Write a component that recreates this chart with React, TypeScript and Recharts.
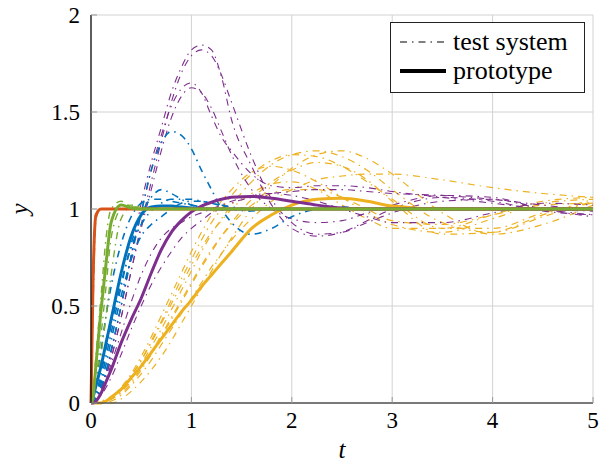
import { useEffect, useState } from "react";
import { LineChart, Line, XAxis, YAxis, CartesianGrid } from "recharts";

const BLUE = "#0072BD";
const ORANGE = "#D95319";
const YELLOW = "#EDB120";
const PURPLE = "#7E2F8E";
const GREEN = "#77AC30";
const FONT = '"Liberation Serif", "Times New Roman", Times, "Nimbus Roman", FreeSerif';
const DASHDOT = "7 5 1.5 5";

const xTicks = [0, 1, 2, 3, 4, 5];
const yTicks = [0, 0.5, 1, 1.5, 2];
const yTickLabels = ["0", "0.5", "1", "1.5", "2"];

// time samples
const T = [0, 0.02, 0.05, 0.1, 0.15, 0.2, 0.3, 0.4, 0.5, 0.6, 0.7, 0.8, 0.9, 1.0, 1.1, 1.2, 1.3, 1.4, 1.6, 1.8, 2.0, 2.25, 2.5, 2.75, 3.0, 3.5, 4.0, 4.5, 5.0];

// prototypes (thick solid)
const protoOrange = [0, 0.62, 0.97, 1.0, 1, 1, 1, 1, 1, 1, 1, 1, 1, 1, 1, 1, 1, 1, 1, 1, 1, 1, 1, 1, 1, 1, 1, 1, 1];
const protoGreen = [0, 0.03, 0.2, 0.48, 0.72, 0.93, 1.02, 1.005, 1, 1, 1, 1, 1, 1, 1, 1, 1, 1, 1, 1, 1, 1, 1, 1, 1, 1, 1, 1, 1];
const protoBlue = [0, 0.03, 0.09, 0.19, 0.31, 0.43, 0.67, 0.86, 0.97, 1.01, 1.015, 1.015, 1.01, 1.005, 1, 1, 1, 1, 1, 1, 1, 1, 1, 1, 1, 1, 1, 1, 1];
const protoPurple = [0, 0, 0.01, 0.05, 0.11, 0.17, 0.31, 0.43, 0.54, 0.67, 0.79, 0.88, 0.94, 0.985, 1.015, 1.035, 1.05, 1.06, 1.065, 1.055, 1.04, 1.02, 1.005, 1, 1, 1, 1, 1, 1];
const protoYellow = [0, 0, 0, 0, 0.01, 0.03, 0.07, 0.13, 0.19, 0.26, 0.33, 0.4, 0.47, 0.53, 0.6, 0.66, 0.72, 0.78, 0.9, 0.97, 1.02, 1.05, 1.055, 1.04, 1.015, 1, 1, 1, 1];

// test systems (thin dash-dot)
const testOrange1 = [0, 0.5, 0.95, 1.0, 1, 1, 1, 1, 1, 1, 1, 1, 1, 1, 1, 1, 1, 1, 1, 1, 1, 1, 1, 1, 1, 1, 1, 1, 1];

const testGreen1 = [0, 0.02, 0.12, 0.35, 0.6, 0.85, 1.0, 1.02, 1.01, 1, 1, 1, 1, 1, 1, 1, 1, 1, 1, 1, 1, 1, 1, 1, 1, 1, 1, 1, 1];
const testGreen2 = [0, 0.01, 0.08, 0.25, 0.45, 0.66, 0.95, 1.01, 1.01, 1, 1, 1, 1, 1, 1, 1, 1, 1, 1, 1, 1, 1, 1, 1, 1, 1, 1, 1, 1];
const testGreen3 = [0, 0.05, 0.25, 0.55, 0.85, 1.0, 1.04, 1.01, 1, 1, 1, 1, 1, 1, 1, 1, 1, 1, 1, 1, 1, 1, 1, 1, 1, 1, 1, 1, 1];

const testBlue1 = [0, 0.01, 0.03, 0.08, 0.16, 0.27, 0.5, 0.75, 0.98, 1.2, 1.34, 1.4, 1.38, 1.31, 1.2, 1.1, 1.0, 0.93, 0.87, 0.9, 0.96, 1.0, 1.01, 1, 1, 1, 1, 1, 1];
const testBlue2 = [0, 0.03, 0.1, 0.27, 0.45, 0.6, 0.82, 0.96, 1.03, 1.05, 1.05, 1.04, 1.03, 1.02, 1.01, 1, 1, 1, 1, 1, 1, 1, 1, 1, 1, 1, 1, 1, 1];
const testBlue3 = [0, 0.02, 0.05, 0.15, 0.28, 0.4, 0.62, 0.8, 0.92, 0.99, 1.03, 1.05, 1.05, 1.05, 1.04, 1.03, 1.02, 1.01, 1, 1, 1, 1, 1, 1, 1, 1, 1, 1, 1];
const testBlue4 = [0, 0.01, 0.03, 0.1, 0.2, 0.32, 0.55, 0.74, 0.86, 0.92, 0.96, 1.0, 1.03, 1.04, 1.04, 1.03, 1.015, 1.0, 0.99, 1, 1, 1, 1, 1, 1, 1, 1, 1, 1];
const testBlue5 = [0, 0.01, 0.04, 0.12, 0.24, 0.36, 0.6, 0.82, 0.97, 1.06, 1.1, 1.08, 1.05, 1.02, 1.01, 1, 1, 1, 1, 1, 1, 1, 1, 1, 1, 1, 1, 1, 1];

const testPurple1 = [0, 0.005, 0.02, 0.08, 0.16, 0.26, 0.5, 0.76, 1.03, 1.24, 1.42, 1.6, 1.73, 1.82, 1.845, 1.82, 1.68, 1.46, 1.22, 1.02, 0.9, 0.86, 0.88, 0.94, 1.0, 1.06, 1.04, 0.99, 0.97];
const testPurple2 = [0, 0.005, 0.02, 0.07, 0.14, 0.23, 0.44, 0.68, 0.92, 1.14, 1.35, 1.55, 1.7, 1.79, 1.82, 1.79, 1.69, 1.55, 1.27, 1.05, 0.93, 0.87, 0.88, 0.93, 0.98, 1.04, 1.05, 1.0, 0.97];
const testPurple3 = [0, 0.005, 0.02, 0.08, 0.16, 0.27, 0.5, 0.76, 0.98, 1.2, 1.38, 1.53, 1.62, 1.65, 1.6, 1.48, 1.37, 1.3, 1.18, 1.12, 1.11, 1.12, 1.12, 1.11, 1.09, 1.06, 1.03, 1.0, 0.99];
const testPurple4 = [0, 0.005, 0.02, 0.07, 0.14, 0.23, 0.44, 0.68, 0.9, 1.1, 1.3, 1.47, 1.58, 1.625, 1.6, 1.52, 1.4, 1.28, 1.1, 1.0, 0.95, 0.93, 0.94, 0.98, 1.02, 1.07, 1.06, 1.0, 0.96];
const testPurple5 = [0, 0, 0.01, 0.04, 0.08, 0.13, 0.25, 0.38, 0.5, 0.61, 0.7, 0.78, 0.85, 0.9, 0.94, 0.98, 1.0, 1.03, 1.06, 1.08, 1.09, 1.1, 1.1, 1.09, 1.08, 1.07, 1.05, 1.02, 0.99];
const testPurple6 = [0, 0.005, 0.02, 0.06, 0.12, 0.2, 0.36, 0.52, 0.66, 0.77, 0.85, 0.9, 0.93, 0.96, 0.98, 1.0, 1.02, 1.04, 1.07, 1.08, 1.07, 1.04, 1.0, 0.96, 0.93, 0.93, 0.98, 1.03, 1.02];

const testYellow1 = [0, 0, 0, 0.005, 0.015, 0.03, 0.08, 0.15, 0.24, 0.34, 0.45, 0.56, 0.67, 0.78, 0.88, 0.97, 1.04, 1.1, 1.19, 1.22, 1.2, 1.14, 1.06, 0.98, 0.92, 0.88, 0.95, 1.03, 1.05];
const testYellow2 = [0, 0, 0, 0, 0.01, 0.02, 0.06, 0.12, 0.2, 0.29, 0.38, 0.48, 0.58, 0.68, 0.78, 0.87, 0.95, 1.02, 1.14, 1.23, 1.28, 1.3, 1.27, 1.2, 1.1, 0.93, 0.88, 0.96, 1.04];
const testYellow3 = [0, 0, 0, 0.005, 0.015, 0.03, 0.07, 0.14, 0.22, 0.32, 0.42, 0.53, 0.64, 0.74, 0.84, 0.93, 1.0, 1.07, 1.18, 1.25, 1.28, 1.27, 1.22, 1.14, 1.05, 0.9, 0.9, 0.98, 1.03];
const testYellow4 = [0, 0, 0, 0, 0.005, 0.01, 0.04, 0.09, 0.15, 0.22, 0.3, 0.38, 0.46, 0.54, 0.62, 0.7, 0.77, 0.84, 0.95, 1.04, 1.1, 1.15, 1.17, 1.18, 1.18, 1.15, 1.11, 1.08, 1.06];
const testYellow5 = [0, 0, 0, 0, 0.01, 0.02, 0.05, 0.1, 0.17, 0.25, 0.34, 0.43, 0.52, 0.61, 0.7, 0.78, 0.86, 0.93, 1.05, 1.14, 1.2, 1.24, 1.22, 1.15, 1.04, 0.87, 0.88, 0.97, 1.05];
const testYellow6 = [0, 0, 0, 0, 0, 0, 0.02, 0.06, 0.11, 0.17, 0.24, 0.32, 0.41, 0.5, 0.59, 0.68, 0.77, 0.85, 1.0, 1.12, 1.21, 1.28, 1.3, 1.26, 1.18, 0.98, 0.87, 0.92, 1.02];
const testYellow7 = [0, 0, 0, 0.005, 0.01, 0.02, 0.06, 0.11, 0.18, 0.26, 0.35, 0.44, 0.53, 0.62, 0.71, 0.79, 0.86, 0.92, 1.02, 1.08, 1.1, 1.1, 1.06, 1.0, 0.94, 0.92, 0.97, 1.02, 1.03];
const testYellow8 = [0, 0, 0, 0.01, 0.02, 0.03, 0.08, 0.14, 0.22, 0.31, 0.41, 0.51, 0.61, 0.71, 0.8, 0.88, 0.94, 1.0, 1.08, 1.13, 1.14, 1.1, 1.02, 0.95, 0.9, 0.9, 0.97, 1.04, 1.06];

type Series = { key: string; values: number[]; color: string; width: number; dashed: boolean };

const tests: Series[] = [
  ...[testYellow1, testYellow2, testYellow3, testYellow4, testYellow5, testYellow6, testYellow7, testYellow8].map((v, i) => ({ key: `ty${i}`, values: v, color: YELLOW, width: 1.2, dashed: true })),
  ...[testPurple1, testPurple2, testPurple3, testPurple4, testPurple5, testPurple6].map((v, i) => ({ key: `tp${i}`, values: v, color: PURPLE, width: 1.1, dashed: true })),
  ...[testBlue1, testBlue2, testBlue3, testBlue4, testBlue5].map((v, i) => ({ key: `tb${i}`, values: v, color: BLUE, width: 1.6, dashed: true })),
  ...[testGreen1, testGreen2, testGreen3].map((v, i) => ({ key: `tg${i}`, values: v, color: GREEN, width: 1.4, dashed: true })),
  { key: "to0", values: testOrange1, color: ORANGE, width: 1.4, dashed: true },
];

const prototypes: Series[] = [
  { key: "pYellow", values: protoYellow, color: YELLOW, width: 3, dashed: false },
  { key: "pPurple", values: protoPurple, color: PURPLE, width: 3, dashed: false },
  { key: "pBlue", values: protoBlue, color: BLUE, width: 3, dashed: false },
  { key: "pOrange", values: protoOrange, color: ORANGE, width: 3, dashed: false },
  { key: "pGreen", values: protoGreen, color: GREEN, width: 3, dashed: false },
];

const allSeries = [...tests, ...prototypes];

const data = T.map((t, i) => {
  const row: Record<string, number> = { t };
  allSeries.forEach((s) => {
    row[s.key] = s.values[i];
  });
  return row;
});

const textStyle = { fontFamily: FONT };
const css = `#chart-root, #chart-root text, #chart-root tspan { font-family: ${FONT} !important; }`;

function LegendBox() {
  return (
    <svg width={608} height={463} style={{ position: "absolute", left: 0, top: 0, pointerEvents: "none" }}>
      <rect x={390.5} y={22.5} width={194} height={70} fill="#fff" stroke="#222" strokeWidth={1} />
      <line x1={400} x2={446} y1={42} y2={42} stroke="#000" strokeWidth={1} strokeDasharray={DASHDOT} />
      <text x={453} y={50} fontFamily={FONT} style={textStyle} fontSize={26} fill="#000">test system</text>
      <line x1={400} x2={446} y1={71} y2={71} stroke="#000" strokeWidth={4} />
      <text x={453} y={79} fontFamily={FONT} style={textStyle} fontSize={26} fill="#000">prototype</text>
    </svg>
  );
}

export default function App() {
  const [ready, setReady] = useState(0);
  useEffect(() => {
    if (document.fonts && document.fonts.ready) {
      document.fonts.ready.then(() => setReady(1));
    }
  }, []);
  return (
    <div id="chart-root" key={ready} style={{ position: "absolute", left: 0, top: 0, width: 608, height: 463, background: "#fff", fontFamily: FONT }}>
      <style>{css}</style>
      <LineChart width={608} height={463} data={data} margin={{ top: 15, right: 15, left: 31, bottom: 20 }}>
        <CartesianGrid stroke="#d2d2d2" strokeWidth={1} />
        <XAxis
          dataKey="t"
          type="number"
          domain={[0, 5]}
          ticks={xTicks}
          height={40}
          axisLine={{ stroke: "#555", strokeWidth: 1.5 }}
          tickLine={{ stroke: "#999" }}
          tickSize={-6}
          tickMargin={15}
          tick={{ fill: "#000", fontSize: 23, fontFamily: FONT, style: textStyle }}
          interval={0}
          label={(p: any) => (
            <text x={p.viewBox.x + p.viewBox.width / 2} y={458} textAnchor="middle" fontFamily={FONT} style={textStyle} fontStyle="italic" fontSize={25} fill="#000">
              t
            </text>
          )}
        />
        <YAxis
          type="number"
          domain={[0, 2]}
          ticks={yTicks}
          width={60}
          axisLine={{ stroke: "#000", strokeWidth: 1.2 }}
          tickLine={{ stroke: "#999" }}
          tickSize={-6}
          tickMargin={17}
          tickFormatter={(v: number) => yTickLabels[yTicks.indexOf(v)]}
          tick={{ fill: "#000", fontSize: 23, fontFamily: FONT, style: textStyle }}
          interval={0}
          label={(p: any) => (
            <text
              x={28}
              y={p.viewBox.y + p.viewBox.height / 2}
              transform={`rotate(-90 28 ${p.viewBox.y + p.viewBox.height / 2})`}
              textAnchor="middle"
              fontFamily={FONT}
              style={textStyle}
              fontStyle="italic"
              fontSize={25}
              fill="#000"
            >
              y
            </text>
          )}
        />
        {allSeries.map((s) => (
          <Line
            key={s.key}
            dataKey={s.key}
            type="monotone"
            stroke={s.color}
            strokeWidth={s.width}
            strokeDasharray={s.dashed ? DASHDOT : undefined}
            dot={false}
            activeDot={false}
            isAnimationActive={false}
          />
        ))}
      </LineChart>
      <LegendBox />
    </div>
  );
}
